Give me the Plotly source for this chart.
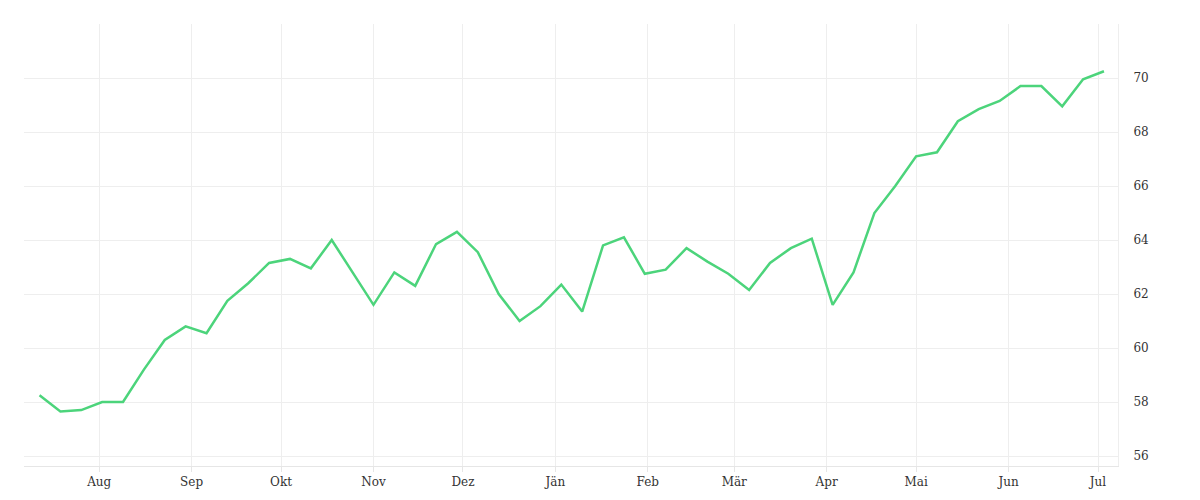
import plotly.graph_objects as go
import pandas as pd

dates = pd.date_range("2019-07-12", periods=52, freq="7D")
values = [58.25, 57.65, 57.7, 58.0, 58.0, 59.2, 60.3, 60.8, 60.55, 61.75,
          62.4, 63.15, 63.3, 62.95, 64.0, 62.8, 61.6, 62.8, 62.3, 63.85,
          64.3, 63.55, 62.0, 61.0, 61.55, 62.35, 61.35, 63.8, 64.1, 62.75,
          62.9, 63.7, 63.2, 62.75, 62.15, 63.15, 63.7, 64.05, 61.6, 62.8,
          65.0, 66.0, 67.1, 67.25, 68.4, 68.85, 69.15, 69.7, 69.7, 68.95,
          69.95, 70.25]
tick_dates = pd.date_range("2019-08-01", periods=12, freq="MS")
tick_labels = ["Aug", "Sep", "Okt", "Nov", "Dez", "Jän", "Feb", "Mär", "Apr", "Mai", "Jun", "Jul"]
y_ticks = [56, 58, 60, 62, 64, 66, 68, 70]

fig = go.Figure(go.Scatter(x=dates, y=values, mode="lines",
                           line=dict(color="#4cd47b", width=2.5), hoverinfo="x+y"))
fig.update_layout(
    width=1200, height=500, plot_bgcolor="white", paper_bgcolor="white",
    margin=dict(l=16, r=90, t=16, b=42, autoexpand=False), showlegend=False,
    font=dict(family="DejaVu Serif, serif", size=12, color="#333"),
)
fig.update_xaxes(tickvals=tick_dates, ticktext=tick_labels, showgrid=True,
                 gridcolor="#eeeeee",
                 range=[pd.Timestamp("2019-07-06 19:00"), pd.Timestamp("2020-07-07 17:00")],
                 showline=True, linecolor="#e6e6e6", ticks="outside", ticklen=5, tickcolor="#e6e6e6")
fig.update_yaxes(side="right", tickvals=y_ticks, range=[55.63, 72], showgrid=True,
                 gridcolor="#eeeeee", zeroline=False, showline=True, linecolor="#eeeeee",
                 ticks="", ticklabelstandoff=12)
fig.write_html("out.html")
